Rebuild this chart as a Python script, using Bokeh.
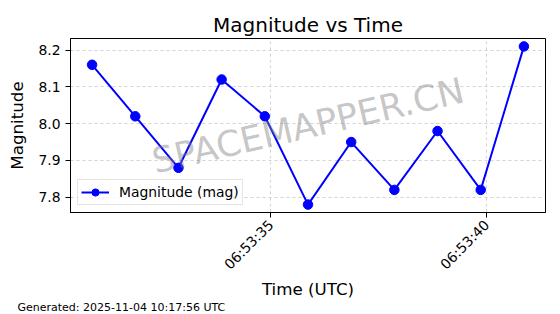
import math
import pandas as pd
from bokeh.plotting import figure
from bokeh.models import (Range1d, FixedTicker, DatetimeTickFormatter, Label, Legend, LegendItem,
                          PrintfTickFormatter, Title)
from bokeh.embed import file_html
from bokeh.resources import INLINE

# ---- data ----
times = ["2025-11-04 06:53:30.86", "2025-11-04 06:53:31.86", "2025-11-04 06:53:32.86",
         "2025-11-04 06:53:33.86", "2025-11-04 06:53:34.86", "2025-11-04 06:53:35.86",
         "2025-11-04 06:53:36.86", "2025-11-04 06:53:37.86", "2025-11-04 06:53:38.86",
         "2025-11-04 06:53:39.86", "2025-11-04 06:53:40.86"]
magnitudes = [8.16, 8.02, 7.88, 8.12, 8.02, 7.78, 7.95, 7.82, 7.98, 7.82, 8.21]
x_ticks = ["2025-11-04 06:53:35", "2025-11-04 06:53:40"]
y_ticks = [7.8, 7.9, 8.0, 8.1, 8.2]
title_text = "Magnitude vs Time"
x_label = "Time (UTC)"
y_label = "Magnitude"
legend_label = "Magnitude (mag)"
watermark = "SPACEMAPPER.CN"
footer = "Generated: 2025-11-04 10:17:56 UTC"

FONT = "DejaVu Sans"

t = pd.to_datetime(times)
t_ms = [ts.value / 1e6 for ts in t]
xt_ms = [ts.value / 1e6 for ts in pd.to_datetime(x_ticks)]

xmin, xmax = min(t_ms), max(t_ms)
ymin, ymax = min(magnitudes), max(magnitudes)
xpad = (xmax - xmin) * 0.05
ypad = (ymax - ymin) * 0.05

p = figure(width=560, height=314, x_axis_type="datetime",
           x_range=Range1d(xmin - xpad, xmax + xpad),
           y_range=Range1d(ymin - ypad, ymax + ypad),
           output_backend="svg", toolbar_location=None,
           min_border_left=70, min_border_right=15, min_border_top=38, min_border_bottom=102)

p.title.text = title_text
p.title.text_font = FONT
p.title.text_font_size = "20px"
p.title.text_font_style = "normal"
p.title.text_color = "black"
p.title.align = "center"
p.title.standoff = 4

p.outline_line_color = "black"
p.outline_line_width = 1

for ax in (p.xaxis[0], p.yaxis[0]):
    ax.major_label_text_font = FONT
    ax.major_label_text_font_size = "13.9px"
    ax.major_label_text_color = "black"
    ax.axis_label_text_font = FONT
    ax.axis_label_text_font_size = "16.7px"
    ax.axis_label_text_font_style = "normal"
    ax.axis_label_text_color = "black"
    ax.major_tick_in = 0
    ax.major_tick_out = 5
    ax.minor_tick_in = 0
    ax.minor_tick_out = 0
    ax.axis_line_color = "black"
    ax.major_tick_line_color = "black"

p.xaxis.axis_label = x_label
p.yaxis.axis_label = y_label
p.xaxis.ticker = FixedTicker(ticks=xt_ms)
p.yaxis.ticker = FixedTicker(ticks=y_ticks)
p.yaxis.formatter = PrintfTickFormatter(format="%.1f")
fmt = "%H:%M:%S"
p.xaxis.formatter = DatetimeTickFormatter(milliseconds=fmt, seconds=fmt, minsec=fmt,
                                          minutes=fmt, hourmin=fmt, hours=fmt)
p.xaxis.major_label_orientation = math.pi / 4
p.yaxis.axis_label_standoff = 8
p.xaxis.axis_label_standoff = -2

p.grid.grid_line_color = "#b0b0b0"
p.grid.grid_line_alpha = 0.7
p.grid.grid_line_dash = "3 3"
p.grid.grid_line_width = 0.8

line = p.line(t_ms, magnitudes, line_color="#0000ff", line_width=2)
pts = p.scatter(t_ms, magnitudes, size=9.5, fill_color="#0000ff", line_color="#0000ff")

legend = Legend(items=[LegendItem(label=legend_label, renderers=[line, pts])],
                location="bottom_left")
legend.label_text_font = FONT
legend.label_text_font_size = "13.9px"
legend.label_text_color = "black"
legend.glyph_width = 28
legend.glyph_height = 18
legend.margin = 7
legend.padding = 3
legend.spacing = 0
legend.label_standoff = 10
legend.label_height = 14
legend.border_line_color = "#cccccc"
legend.background_fill_alpha = 0.8
p.add_layout(legend)

wm = Label(x=(xmin + xmax) / 2, y=(ymin + ymax) / 2, text=watermark,
           angle=13, angle_units="deg", text_align="center", text_baseline="middle",
           text_font=FONT, text_font_size="35.5px", text_color="gray", text_alpha=0.45)
p.add_layout(wm)

foot = Title(text=footer, align="left", offset=-53, text_font=FONT, text_font_size="11px",
             text_font_style="normal", text_color="black", standoff=-6)
p.add_layout(foot, "below")

open("out.html", "w").write(file_html(p, INLINE))
